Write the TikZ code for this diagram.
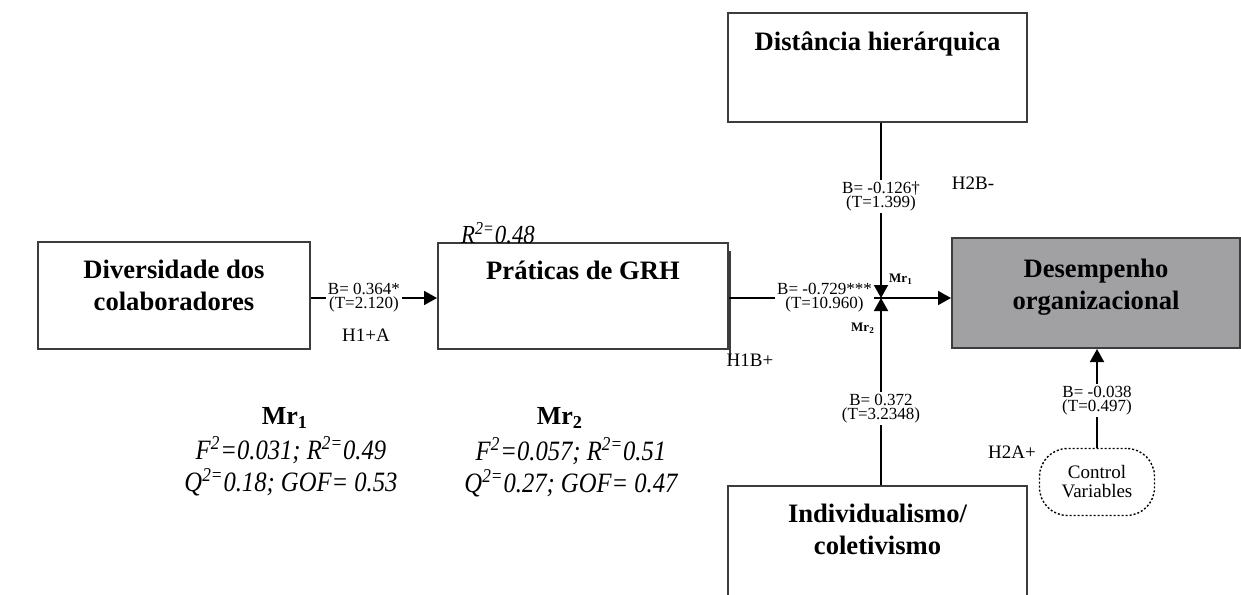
\documentclass[tikz,border=0pt]{standalone}
\usepackage{fontspec}
\setmainfont{Liberation Serif}
\newfontfamily\statfont[FakeStretch=0.88]{Liberation Serif}
\usetikzlibrary{arrows.meta, positioning}
\definecolor{boxgray}{RGB}{161,161,163}
\definecolor{boxline}{RGB}{60,60,60}

\begin{document}
\begin{tikzpicture}[x=0.5pt, y=-0.5pt,
    box/.style={rectangle, draw=boxline, line width=1pt, inner sep=0pt},
    bt/.style={inner sep=0pt, anchor=north, align=center, font=\bfseries\fontsize{13.3}{16}\selectfont},
    nd/.style={fill=white, inner sep=1pt, align=center, font=\fontsize{8.5}{7}\selectfont},
    hy/.style={inner sep=0pt, font=\fontsize{9.5}{11}\selectfont},
    mr/.style={inner sep=0pt, font=\bfseries\fontsize{6.5}{7}\selectfont},
    st/.style={inner sep=0pt, align=center, font=\statfont\itshape\fontsize{14}{16}\selectfont},
    arr/.style={-{Triangle[length=6.5pt,width=7pt]}, line width=0.9pt}]
            \useasboundingbox (0,0) rectangle (1241,594);

            % constructs
            \draw (174,295.5)  node[box, minimum width=136pt, minimum height=53.5pt](div){};
            \draw (583,296)    node[box, minimum width=145pt, minimum height=53pt](prat){};
            \draw (877.5,67)   node[box, minimum width=149.5pt, minimum height=54.5pt](dist){};
            \draw (1096,293)   node[box, minimum width=144pt, minimum height=55pt, fill=boxgray](desm){};
            \draw (877.5,560)  node[box, minimum width=149.5pt, minimum height=74pt](ind){};
            \draw (1097,482)   node[box, dash pattern=on 1pt off 1pt, line width=0.7pt, draw=black,
                                    minimum width=57.5pt, minimum height=33.5pt, rounded corners=14pt,
                                    align=center, font=\fontsize{9.5}{9.5}\selectfont](ctrl){Control\\Variables};
            \draw[line width=0.9pt, boxline] ([xshift=0.6pt,yshift=-4.5pt]prat.north east) -- ([xshift=0.6pt,yshift=-4.5pt]prat.south east);

            \draw (174,260)    node[bt](divtxt){Diversidade dos\\colaboradores};
            \draw (583,261)    node[bt](pratxt){Práticas de GRH};
            \draw (877.5,31)   node[bt](disttxt){Distância hierárquica};
            \draw (1096,259)   node[bt](desmtxt){Desempenho\\organizacional};
            \draw (877.5,504)  node[bt](indtxt){Individualismo/\\coletivismo};

            \coordinate (jn) at (881,298);

            % paths
            \begin{scope}[arr]
                \path (div.east |- jn) edge node[nd, pos=.42] {B= 0.364*\\(T=2.120)} (prat.west |- jn);
                \path (prat.east |- jn) edge node[nd, pos=.43] {B= -0.729***\\(T=10.960)} (desm.west |- jn);
                \path (dist.south -| jn) edge node[nd, pos=.42] {B= -0.126\textdagger\\(T=1.399)} (jn);
                \path (ind.north -| jn) edge node[nd, pos=.41] {B= 0.372\\(T=3.2348)} (jn);
                \path (ctrl.north) edge node[nd, pos=.48] {B= -0.038\\(T=0.497)} (ctrl.north |- desm.south);
            \end{scope}

            % hypotheses and moderators
            \draw (366,335)  node[hy](hia){H1+A};
            \draw (750,360)  node[hy](hib){H1B+};
            \draw (973,183)  node[hy](hiib){H2B-};
            \draw (1012,452) node[hy](hiia){H2A+};
            \draw (901,279)  node[mr](mrjna){Mr\textsubscript{1}};
            \draw (863,328)  node[mr](mrjnb){Mr\textsubscript{2}};

            % fit statistics
            \draw (498,233)  node[inner sep=0pt, font=\statfont\itshape\fontsize{13}{14}\selectfont](rsq){R\textsuperscript{2=}0.48};
            \draw (285,418)  node[inner sep=0pt, font=\bfseries\fontsize{13}{15}\selectfont](mra){Mr\textsubscript{1}};
            \draw (291,466)  node[st](mrastat){F\textsuperscript{2}=0.031; R\textsuperscript{2=}0.49\\Q\textsuperscript{2=}0.18; GOF= 0.53};
            \draw (560,418)  node[inner sep=0pt, font=\bfseries\fontsize{13}{15}\selectfont](mrb){Mr\textsubscript{2}};
            \draw (571,467)  node[st](mrbstat){F\textsuperscript{2}=0.057; R\textsuperscript{2=}0.51\\Q\textsuperscript{2=}0.27; GOF= 0.47};
        \end{tikzpicture}
\end{document}
